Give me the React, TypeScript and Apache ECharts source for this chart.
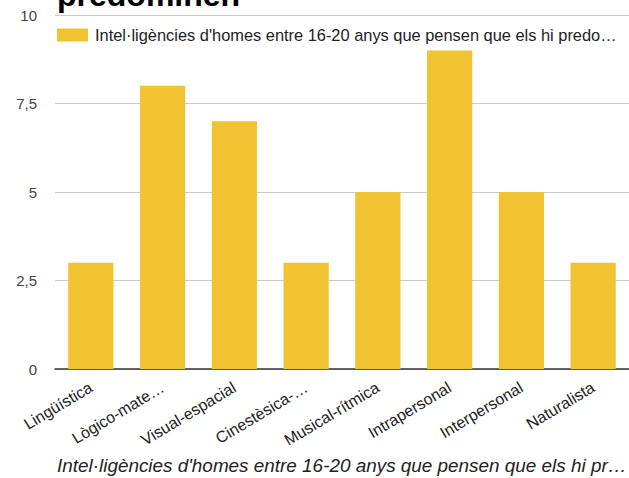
import React, { useEffect, useRef } from "react";
import * as echarts from "echarts";

const categories = [
  "Lingüística",
  "Lògico-mate…",
  "Visual-espacial",
  "Cinestèsica-…",
  "Musical-rítmica",
  "Intrapersonal",
  "Interpersonal",
  "Naturalista",
];
const values = [3, 8, 7, 3, 5, 9, 5, 3];
const seriesName = "Intel·ligències d'homes entre 16-20 anys que pensen que els hi predo…";
const titleText = "predominen";
const xAxisTitle = "Intel·ligències d'homes entre 16-20 anys que pensen que els hi pr…";
const yTicks = [0, 2.5, 5, 7.5, 10];

const FONT = "'Liberation Sans', Arial, sans-serif";

export default function App() {
  const ref = useRef<HTMLDivElement>(null);
  useEffect(() => {
    document.body.style.margin = "0";
    const chart = echarts.init(ref.current!, null, { renderer: "svg" });
    chart.setOption({
      animation: false,
      backgroundColor: "#ffffff",
      textStyle: { fontFamily: FONT },
      grid: { left: 55, right: 0, top: 15, bottom: 109, containLabel: false },
      legend: {
        left: 57,
        top: 27,
        padding: 0,
        itemWidth: 31,
        itemHeight: 13,
        itemGap: 6,
        icon: "rect",
        textStyle: { fontSize: 16.4, color: "#222", fontFamily: FONT, padding: [0, 0, 0, 2] },
        data: [seriesName],
      },
      xAxis: {
        type: "category",
        data: categories,
        axisTick: { show: false },
        axisLine: { lineStyle: { color: "#333", width: 1.5 } },
        axisLabel: {
          rotate: 31,
          interval: 0,
          margin: 17,
          fontSize: 16,
          color: "#222",
          fontFamily: FONT,
        },
      },
      yAxis: {
        type: "value",
        min: yTicks[0],
        max: yTicks[yTicks.length - 1],
        interval: 2.5,
        axisLine: { show: false },
        axisTick: { show: false },
        axisLabel: {
          margin: 18,
          fontSize: 15,
          color: "#444",
          fontFamily: FONT,
          formatter: (v: number) => String(v).replace(".", ","),
        },
        splitLine: { lineStyle: { color: "#cccccc", width: 1 } },
      },
      series: [
        {
          name: seriesName,
          type: "bar",
          data: values,
          barWidth: "63%",
          itemStyle: { color: "#f1c232" },
        },
      ],
      graphic: [
        {
          type: "text",
          left: 57,
          top: -21,
          style: {
            text: titleText,
            font: `bold 32px ${FONT}`,
            fill: "#000",
          },
        },
        {
          type: "text",
          left: 57,
          top: 456,
          style: {
            text: xAxisTitle,
            font: `italic 18.9px ${FONT}`,
            fill: "#222",
          },
        },
      ],
    });
    return () => chart.dispose();
  }, []);
  return <div ref={ref} style={{ width: 629, height: 478 }} />;
}
